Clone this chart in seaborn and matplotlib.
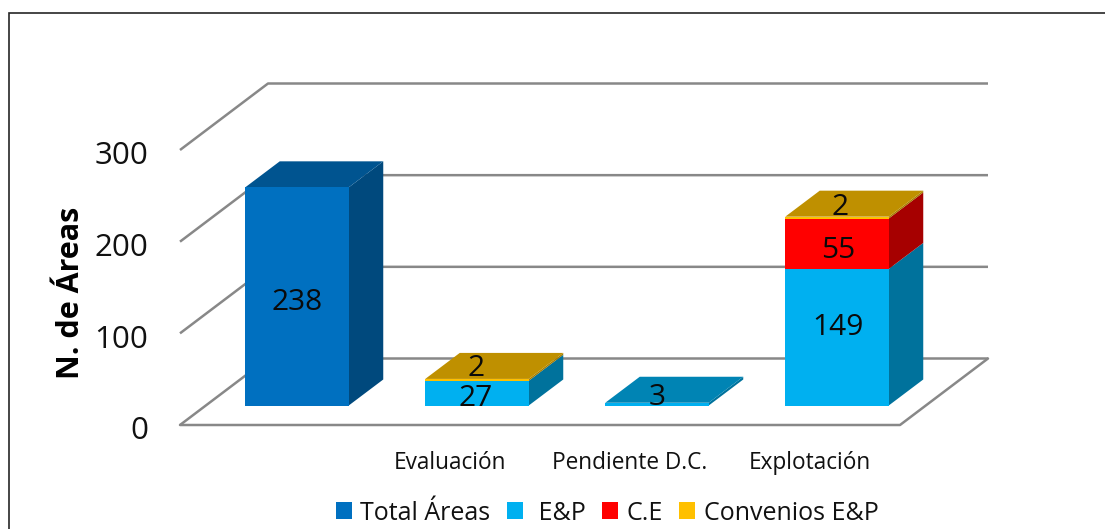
import matplotlib
matplotlib.use("Agg")
import matplotlib.pyplot as plt
from matplotlib.patches import Polygon, Rectangle
from matplotlib.colors import to_rgb
from matplotlib.transforms import ScaledTranslation
import pandas as pd
import seaborn as sns

categories = ["", "Evaluación", "Pendiente D.C.", "Explotación"]
series_names = ["Total Áreas", " E&P", "C.E", "Convenios E&P"]
total_areas = [238, 0, 0, 0]
e_p = [0, 27, 3, 149]
c_e = [0, 0, 0, 55]
convenios = [0, 2, 0, 2]
series_values = [total_areas, e_p, c_e, convenios]
series_colors = ["#0070C0", "#00B0F0", "#FF0000", "#FFC000"]
y_ticks = [0, 100, 200, 300]

W, H = 1105, 529
sns.set_theme(style="white")
plt.rcParams["font.family"] = ["Open Sans", "DejaVu Sans"]
fig = plt.figure(figsize=(W / 100, H / 100), dpi=100, facecolor="white")


def axes_px(left, right, bottom, top):
    return [left / W, 1 - bottom / H, (right - left) / W, (bottom - top) / H]


# front plane: holds the value and category scales and the 3-D walls
ax = fig.add_axes(axes_px(180, 900, 425, 150))
ax.set_xlim(-0.5, 3.5)
ax.set_ylim(0, 300)
PX_X = 180 / 1.0
PX_Y = 275 / 300
wall_dx, wall_dy = 88 / PX_X, 66.5 / PX_Y
GRID = "#888888"
for t in y_ticks:
    ax.plot([-0.5, -0.5 + wall_dx, 3.5 + wall_dx], [t, t + wall_dy, t + wall_dy],
            color=GRID, lw=1.8, clip_on=False, zorder=1, solid_capstyle="butt")
ax.plot([-0.5, 3.5, 3.5 + wall_dx], [0, 0, wall_dy], color=GRID, lw=1.8, clip_on=False, zorder=1)
ax.set_xticks(range(4))
ax.set_xticklabels(categories, fontsize=16.3, color="#111111")
ax.set_yticks(y_ticks)
ax.set_yticklabels(y_ticks, fontsize=22.5, color="#111111")
ax.tick_params(axis="both", length=0)
ax.tick_params(axis="x", pad=18.5)
ax.tick_params(axis="y", pad=23)
down = ScaledTranslation(0, -2 / 72, fig.dpi_scale_trans)
for lab in ax.get_yticklabels():
    lab.set_transform(lab.get_transform() + down)
ax.set_ylabel("N. de Áreas", fontsize=22, fontweight="bold", color="black")
ax.yaxis.set_label_coords((86 - 180) / 720, (425 - 293) / 275)
for s in ax.spines.values():
    s.set_visible(False)
ax.patch.set_alpha(0)

# bars sit part-way back from the front plane
bx = fig.add_axes(axes_px(207, 927, 405.5, 130.5))
bx.patch.set_alpha(0)
bottoms = [0, 0, 0, 0]
for name, vals, col in zip(series_names, series_values, series_colors):
    df = pd.DataFrame({"cat": categories, "val": vals})
    sns.barplot(data=df, x="cat", y="val", order=categories, color=col, saturation=1,
                width=0.575, bottom=bottoms, ax=bx, label=name, linewidth=0, zorder=3)
    bottoms = [b + v for b, v in zip(bottoms, vals)]
bx.set_xlim(-0.5, 3.5)
bx.set_ylim(0, 300)
bx.set_axis_off()

bar_dx, bar_dy = 34.5 / PX_X, 26 / PX_Y
SIDE, TOP = 0.65, 0.75


def shade(col, f):
    return tuple(c * f for c in to_rgb(col))


for i in range(4):
    base = 0
    last_col = None
    x0, x1 = i - 0.2875, i + 0.2875
    for vals, col in zip(series_values, series_colors):
        v = vals[i]
        if v <= 0:
            continue
        bx.add_patch(Polygon([(x1, base), (x1 + bar_dx, base + bar_dy),
                              (x1 + bar_dx, base + v + bar_dy), (x1, base + v)],
                             closed=True, fc=shade(col, SIDE), ec="none", clip_on=False, zorder=2))
        base += v
        last_col = col
    bx.add_patch(Polygon([(x0, base), (x1, base), (x1 + bar_dx, base + bar_dy), (x0 + bar_dx, base + bar_dy)],
                         closed=True, fc=shade(last_col, TOP), ec="none", clip_on=False, zorder=2))

# data labels, with the pixel nudges the original layout used (category, series): (dx, dy up)
label_nudge = {(0, 0): (0, -6), (1, 1): (-1, -5), (2, 1): (0, 7), (3, 1): (1, 10), (3, 2): (1, -7),
               (1, 3): (-1, 10), (3, 3): (3, 9)}
for s_idx, vals in enumerate(series_values):
    base = [sum(series_values[k][i] for k in range(s_idx)) for i in range(4)]
    for i, v in enumerate(vals):
        if v <= 0:
            continue
        y = base[i] + v if s_idx == 3 else base[i] + v / 2
        nx, ny = label_nudge.get((i, s_idx), (0, 0))
        bx.annotate(str(v), (i, y), xytext=(nx * 0.72, ny * 0.72), textcoords="offset points",
                    ha="center", va="center", fontsize=21.5, color="#0a0a0a", zorder=5,
                    annotation_clip=False)

handles, labels = bx.get_legend_handles_labels()
if bx.get_legend() is not None:
    bx.get_legend().remove()
fig.legend(handles, labels, loc="center", bbox_to_anchor=(607 / W, 1 - 513 / H), ncol=4, frameon=False,
           fontsize=18, handlelength=0.64, handleheight=0.64, handletextpad=0.35,
           columnspacing=0.65, labelcolor="#111111")

# outer frame runs past the bottom and right of the picture
fig.add_artist(Rectangle((8.5 / W, -0.05), 1.05, 1.05 - 12.5 / H, transform=fig.transFigure,
                         fill=False, ec="#262626", lw=1.2))
fig.savefig("out.png", dpi=100)
